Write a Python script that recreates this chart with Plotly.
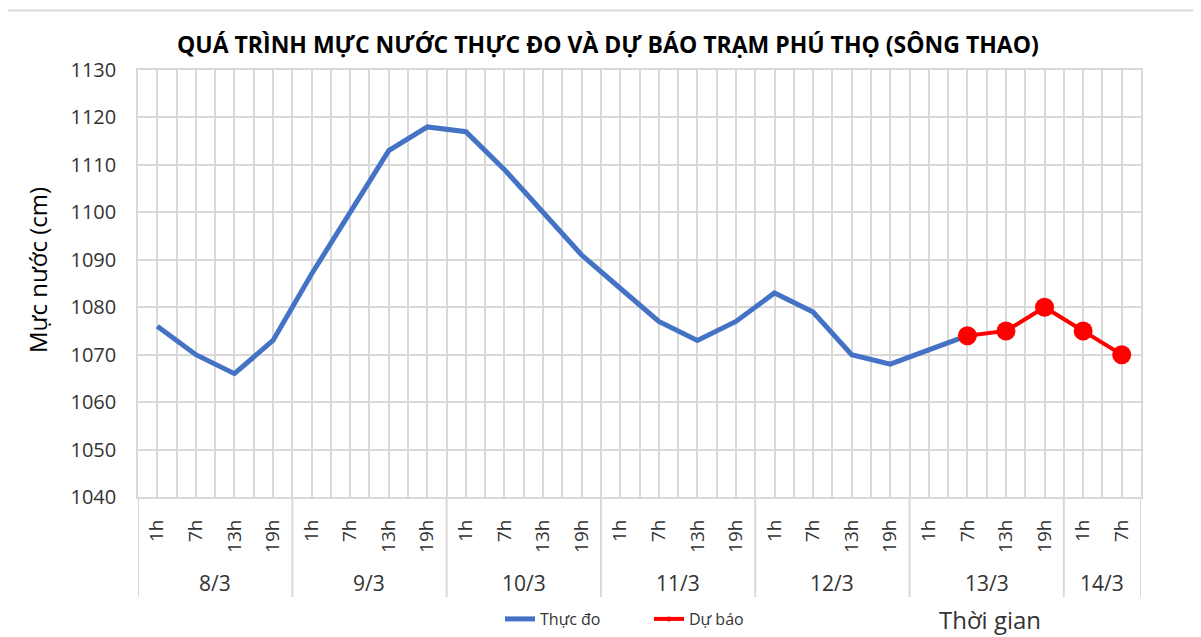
import plotly.graph_objects as go

# ---------------- data ----------------
dates = ["8/3", "9/3", "10/3", "11/3", "12/3", "13/3", "14/3"]
hours_per_date = [
    ["1h", "7h", "13h", "19h"],
    ["1h", "7h", "13h", "19h"],
    ["1h", "7h", "13h", "19h"],
    ["1h", "7h", "13h", "19h"],
    ["1h", "7h", "13h", "19h"],
    ["1h", "7h", "13h", "19h"],
    ["1h", "7h"],
]
observed = [1076, 1070, 1066, 1073,
            1087, 1100, 1113, 1118,
            1117, 1109, 1100, 1091,
            1084, 1077, 1073, 1077,
            1083, 1079, 1070, 1068,
            1071, 1074]
forecast_start = 21  # 13/3 7h
forecast = [1074, 1075, 1080, 1075, 1070]

title = "QUÁ TRÌNH MỰC NƯỚC THỰC ĐO VÀ DỰ BÁO TRẠM PHÚ THỌ (SÔNG THAO)"
y_title = "Mực nước (cm)"
x_title = "Thời gian"
name_obs = "Thực đo"
name_fc = "Dự báo"

# ---------------- derived ----------------
hour_labels = [h for grp in hours_per_date for h in grp]
n = len(hour_labels)
idx = list(range(n))
obs_x = idx[:len(observed)]
fc_x = idx[forecast_start:forecast_start + len(forecast)]

bounds = [-0.5]
centres = []
pos = 0
for grp in hours_per_date:
    centres.append(pos + (len(grp) - 1) / 2)
    pos += len(grp)
    bounds.append(pos - 0.5)

# page body has an 8px margin -> work in reference pixels, shift by 8
OFF = 8
W, H = 1201 - OFF, 637 - OFF
L, R, T, B = 138 - OFF, 1141 - OFF, 70 - OFF, 497 - OFF
def px(xp):
    return (xp - OFF - L) / (R - L)
def py(yp):
    return (B - (yp - OFF)) / (B - T)

FONT = "Open Sans"
GRID = "#d9d9d9"
TXT = "#333333"

fig = go.Figure()
fig.add_trace(go.Scatter(
    x=obs_x, y=observed, mode="lines", name=name_obs,
    line=dict(color="#4472C4", width=5), showlegend=True))
fig.add_trace(go.Scatter(
    x=fc_x, y=forecast, mode="lines+markers", name=name_fc,
    line=dict(color="#FF0000", width=4),
    marker=dict(color="#FF0000", size=19), showlegend=False))
fig.add_trace(go.Scatter(
    x=[None], y=[None], mode="lines+markers", name=name_fc,
    line=dict(color="#FF0000", width=4),
    marker=dict(color="#FF0000", size=5), showlegend=True))

shapes = []
for b in bounds:
    shapes.append(dict(type="line", xref="x", yref="paper",
                       x0=b, x1=b, y0=0, y1=py(597),
                       line=dict(color=GRID, width=2)))
shapes.append(dict(type="line", xref="paper", yref="paper",
                   x0=px(5), x1=px(1201), y0=py(10.5), y1=py(10.5),
                   line=dict(color="#d9d9d9", width=2)))
shapes.append(dict(type="line", xref="paper", yref="paper",
                   x0=px(5), x1=px(5), y0=py(10.5), y1=py(637),
                   line=dict(color="#d9d9d9", width=2)))

annotations = []
for c, d in zip(centres, dates):
    annotations.append(dict(x=c, xref="x", y=py(583), yref="paper",
                            text=d, showarrow=False, xanchor="center",
                            yanchor="middle",
                            font=dict(family=FONT, size=21, color=TXT)))
annotations.append(dict(x=px(990), xref="paper", y=py(619), yref="paper",
                        text=x_title, showarrow=False, xanchor="center",
                        yanchor="middle",
                        font=dict(family=FONT, size=24, color=TXT)))
annotations.append(dict(x=px(608), xref="paper", y=py(44), yref="paper",
                        text="<b>" + title + "</b>", showarrow=False,
                        xanchor="center", yanchor="middle",
                        font=dict(family=FONT, size=23, color="#000000")))
annotations.append(dict(x=px(37), xref="paper", y=py(270), yref="paper",
                        text=y_title, showarrow=False, textangle=-90,
                        xanchor="center", yanchor="middle",
                        font=dict(family=FONT, size=24, color="#000000")))

fig.update_layout(
    width=W, height=H,
    margin=dict(l=L, r=W - R, t=T, b=H - B, autoexpand=False),
    paper_bgcolor="white", plot_bgcolor="white",
    shapes=shapes, annotations=annotations,
    legend=dict(orientation="h", x=px(500), xanchor="left",
                y=py(619), yanchor="middle",
                font=dict(family=FONT, size=16, color=TXT),
                bgcolor="rgba(0,0,0,0)", itemwidth=30,
                entrywidth=104, entrywidthmode="pixels",
                tracegroupgap=0),
    xaxis=dict(range=[-0.5, n - 0.5], tickmode="array", tickvals=idx,
               ticktext=hour_labels, tickangle=-90,
               tickfont=dict(family=FONT, size=19, color=TXT),
               ticks="", ticklabelstandoff=13,
               showgrid=True, gridcolor=GRID, gridwidth=1.5,
               minor=dict(tickvals=[i + 0.5 for i in range(-1, n)],
                          showgrid=True, gridcolor=GRID, gridwidth=1.5),
               showline=True, mirror=True, linecolor=GRID, linewidth=2,
               zeroline=False, fixedrange=True),
    yaxis=dict(range=[1040, 1130], dtick=10, tick0=1040,
               tickfont=dict(family=FONT, size=20, color=TXT),
               showgrid=True, gridcolor=GRID, gridwidth=1.5,
               showline=True, mirror=True, linecolor=GRID, linewidth=1.5,
               ticks="", ticklabelstandoff=16, zeroline=False),
)

fig.write_html("out.html")
